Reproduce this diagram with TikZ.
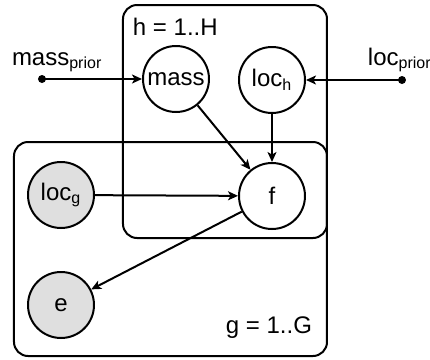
\documentclass[tikz,border=0pt]{standalone}
\usepackage{fontspec}
\setmainfont{Liberation Sans}
\usetikzlibrary{arrows.meta}
\begin{document}
\begin{tikzpicture}[x=0.5pt, y=-0.5pt, font=\fontsize{12}{14}\selectfont,
			line width=1pt, line join=round,
			>={Stealth[length=5pt,width=4.5pt,inset=1.3pt]},
			var/.style={draw, circle, minimum size=33pt, inner sep=0pt},
			obs/.style={var, fill=gray!25},
			plate/.style={draw, rounded corners=7pt},
			lab/.style={inner sep=0pt}]
			\useasboundingbox (0,0) rectangle (430,360);
			% plates
			\draw[plate] (14,142) rectangle (327,356);
			\draw[plate] (123,5) rectangle (327,238);
			\node[lab, anchor=base west] (hlab) at (132,35) {h = 1..H};
			\node[lab, anchor=base east] (glab) at (313,333) {g = 1..G};
			% variables
			\node[var] (mass) at (176,79) {mass};
			\node[var] (loch) at (272,80) {loc\textsubscript{h}};
			\node[var] (f) at (272,196) {f};
			\node[obs] (locg) at (61,195) {loc\textsubscript{g}};
			\node[obs] (e) at (61,305) {e};
			% priors
			\coordinate (mp) at (42,79);
			\coordinate (lp) at (402,80);
			\fill (mp) circle (2pt) (lp) circle (2pt);
			\node[lab, anchor=base west] (mplab) at (11,65) {mass\textsubscript{prior}};
			\node[lab, anchor=base west] (lplab) at (367,65) {loc\textsubscript{prior}};
			% edges
			\draw[->] (mp) -- (mass);
			\draw[->] (lp) -- (loch);
			\draw[->] (mass) -- (f);
			\draw[->] (loch) -- (f);
			\draw[->] (locg) -- (f);
			\draw[->] (f) -- (e);
		\end{tikzpicture}
\end{document}
